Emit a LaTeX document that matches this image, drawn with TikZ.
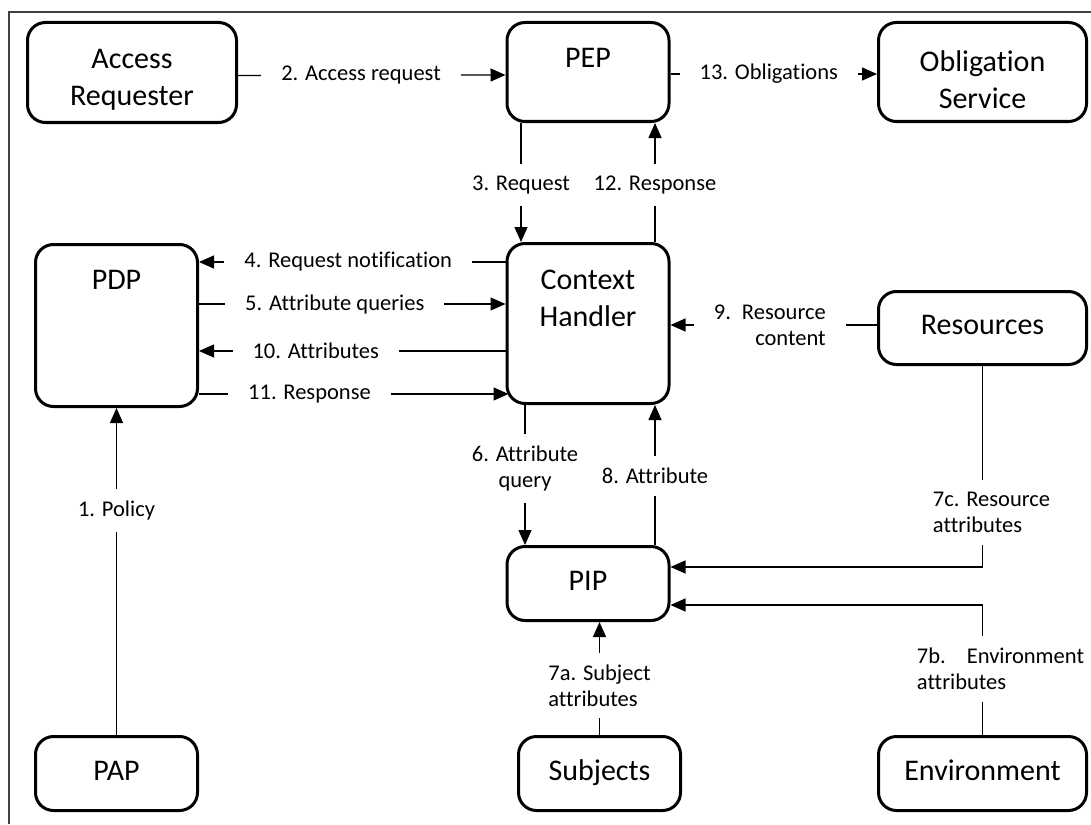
\documentclass[tikz,border=0pt]{standalone}
\usepackage{fontspec}
\setmainfont{Carlito}[Ligatures=NoCommon]
\usetikzlibrary{arrows.meta}

\begin{document}
\begin{tikzpicture}[x=1pt,y=-1pt]
    \tikzstyle{box}=[draw,line width=3pt,rounded corners=18pt,
                     align=center,inner sep=0pt,text depth=6pt,
                     font=\fontsize{30}{37}\selectfont]
    \tikzstyle{boxtext}=[inner sep=0pt,align=center,
                         font=\fontsize{30}{37}\selectfont]
    \tikzstyle{lbl}=[fill=white,inner xsep=20pt,inner ysep=12pt,
                     align=center,font=\fontsize{22.5}{26}\selectfont]
    \tikzstyle{conn}=[line width=1.3pt,-{Triangle[length=15pt,width=13pt]}]

    \useasboundingbox (0,0) rectangle (1091,824);
    \draw[line width=1.2pt,black!75] (9,824) |- (1091,12);

    \node[box,minimum width=209pt,minimum height=100pt] (ar) at (132,72.5) {};
    \node[box,minimum width=162pt,minimum height=99pt] (pep) at (588,72) {};
    \node[box,minimum width=208pt,minimum height=99pt] (os) at (982.5,72) {};
    \node[box,minimum width=162pt,minimum height=162pt] (pdp) at (116.5,325.5) {};
    \node[box,minimum width=162pt,minimum height=160pt] (ch) at (588,323.5) {};
    \node[box,minimum width=208pt,minimum height=73pt] (res) at (982.5,328) {Resources};
    \node[box,minimum width=162pt,minimum height=74pt] (pip) at (588,583.5) {PIP};
    \node[box,minimum width=162pt,minimum height=74pt] (pap) at (116.5,773.5) {PAP};
    \node[box,minimum width=162pt,minimum height=74pt] (subj) at (599.5,773.5) {Subjects};
    \node[box,minimum width=208pt,minimum height=74pt] (env) at (982.5,773.5) {Environment};

    \node[boxtext] (artext) at ([yshift=-59pt]ar.north) {Access\\Requester};
    \node[boxtext] (ostext) at ([yshift=-59pt]os.north) {Obligation\\Service};
    \node[boxtext] (peptext) at ([yshift=-37pt]pep.north) {PEP};
    \node[boxtext] (pdptext) at ([yshift=-37pt]pdp.north) {PDP};
    \node[boxtext] (chtext) at ([yshift=-56pt]ch.north) {Context\\Handler};

    \draw[conn] ([yshift=-3pt]ar.east) -- node[lbl,pos=0.46] (l2) {2. Access request} ([yshift=-3pt]pep.west);
    \draw[conn] ([yshift=-2pt]pep.east) -- node[lbl,pos=0.476] (l13) {13. Obligations} ([yshift=-2pt]os.west);
    \draw[conn] ([xshift=-67pt]pep.south) -- node[lbl,pos=0.52] (l3) {3. Request} ([xshift=-67pt]ch.north);
    \draw[conn] ([xshift=67pt]ch.north) -- node[lbl,pos=0.48] (l12) {12. Response} ([xshift=67pt]pep.south);
    \draw[conn] (ch.west |- 0,262) -- node[lbl,pos=0.513] (l4) {4. Request notification} (pdp.east |- 0,262);
    \draw[conn] (pdp.east |- 0,304) -- node[lbl,pos=0.443] (l5) {5. Attribute queries} (ch.west |- 0,304);
    \draw[conn] (ch.west |- 0,351) -- node[lbl,pos=0.619] (l10) {10. Attributes} (pdp.east |- 0,351);
    \draw[conn] (pdp.east |- 0,394) -- node[lbl,pos=0.357] (l11) {11. Response} ([xshift=3pt]ch.west |- 0,394);
    \draw[conn] (res.west |- 0,325) -- node[lbl,pos=0.519,align=right] (l9) {9.\hspace{11pt}Resource\\content} (ch.east |- 0,325);
    \draw[conn] (pap) -- node[lbl,pos=0.687] (l1) {1. Policy} (pdp);
    \draw[conn] ([xshift=-63pt]ch.south) -- node[lbl,pos=0.454] (l6) {6. Attribute\\query} ([xshift=-63pt]pip.north);
    \draw[conn] ([xshift=67pt]pip.north) -- node[lbl,pos=0.493] (l8) {8. Attribute} ([xshift=67pt]ch.south);
    \draw[conn] (res.south) |- node[lbl,pos=0.364,xshift=9pt,align=left] (l7c) {7c. Resource\\attributes} (pip.east |- 0,567);
    \draw[conn] (env.north) |- node[lbl,pos=0.254,xshift=18pt,align=left] (l7b) {7b.\hspace{21pt}Environment\\attributes} (pip.east |- 0,605);
    \draw[conn] (subj.north) -- node[lbl,pos=0.438,align=left] (l7a) {7a. Subject\\attributes} (subj.north |- pip.south);
\end{tikzpicture}
\end{document}
